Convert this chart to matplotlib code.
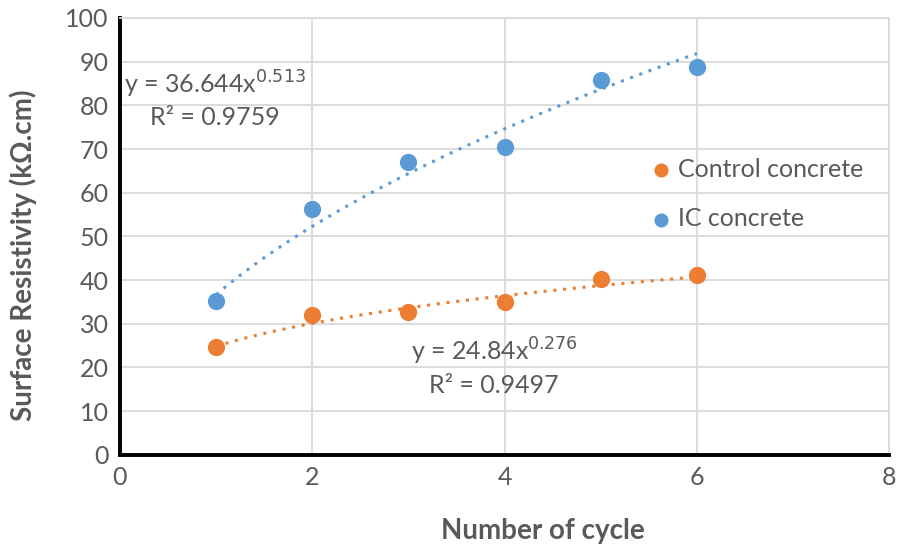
import numpy as np
import matplotlib
matplotlib.use("Agg")
from matplotlib import pyplot as plt

# data
cycles = [1, 2, 3, 4, 5, 6]
control = [24.7, 32.0, 32.7, 35.0, 40.3, 41.2]
ic = [35.2, 56.3, 67.0, 70.5, 85.8, 88.8]

# power trendlines as printed on the chart
ctrl_fit = (24.84, 0.276)
ic_fit = (36.644, 0.513)

orange = "#ED7D31"
blue = "#5B9BD5"
grey = "#595959"

plt.rcParams['font.family'] = ['Lato', 'DejaVu Sans']

fig = plt.figure(figsize=(9.02, 5.44), dpi=100)
ax = fig.add_axes([0.133, 0.164, 0.853, 0.803])

xf = np.linspace(1, 6, 100)
ax.plot(xf, ctrl_fit[0] * xf ** ctrl_fit[1], ls=(0, (1, 2.2)), lw=2.2, color=orange, zorder=2)
ax.plot(xf, ic_fit[0] * xf ** ic_fit[1], ls=(0, (1, 2.2)), lw=2.2, color=blue, zorder=2)

ax.scatter(cycles, control, s=130, color=orange, label="Control concrete", zorder=3)
ax.scatter(cycles, ic, s=130, color=blue, label="IC concrete", zorder=3)

ax.set_xlim(0, 8)
ax.set_ylim(0, 100)
ax.set_xticks(range(0, 9, 2))
ax.set_yticks(range(0, 101, 10))
ax.grid(True, color="#D9D9D9", lw=1.3, zorder=0)
ax.set_axisbelow(True)
for s in ["top", "right"]:
    ax.spines[s].set_color("#D9D9D9")
    ax.spines[s].set_linewidth(1.3)
for s in ["left", "bottom"]:
    ax.spines[s].set_color("black")
    ax.spines[s].set_linewidth(2.8)
ax.tick_params(length=0, labelsize=18, labelcolor=grey, pad=8)

ax.set_xlabel("Number of cycle", fontsize=20, fontweight="bold", color=grey)
ax.set_ylabel("Surface Resistivity (kΩ.cm)", fontsize=20, fontweight="bold", color=grey)
ax.xaxis.set_label_coords(0.55, -0.145)
ax.yaxis.set_label_coords(-0.108, 0.456)

ax.text(0.99, 84.7, "y = 36.644x$^{0.513}$", fontsize=18, color=grey, ha="center", va="center")
ax.text(0.99, 77.3, "R² = 0.9759", fontsize=18, color=grey, ha="center", va="center")
ax.text(3.89, 23.6, "y = 24.84x$^{0.276}$", fontsize=18, color=grey, ha="center", va="center")
ax.text(3.89, 15.8, "R² = 0.9497", fontsize=18, color=grey, ha="center", va="center")

ax.legend(loc="center left", bbox_to_anchor=(0.693, 0.597), frameon=False, fontsize=18,
          labelcolor=grey, handlelength=0.6, handletextpad=0.38, labelspacing=1.05,
          borderpad=0, borderaxespad=0, markerscale=0.8)

fig.savefig("out.png", dpi=100)
